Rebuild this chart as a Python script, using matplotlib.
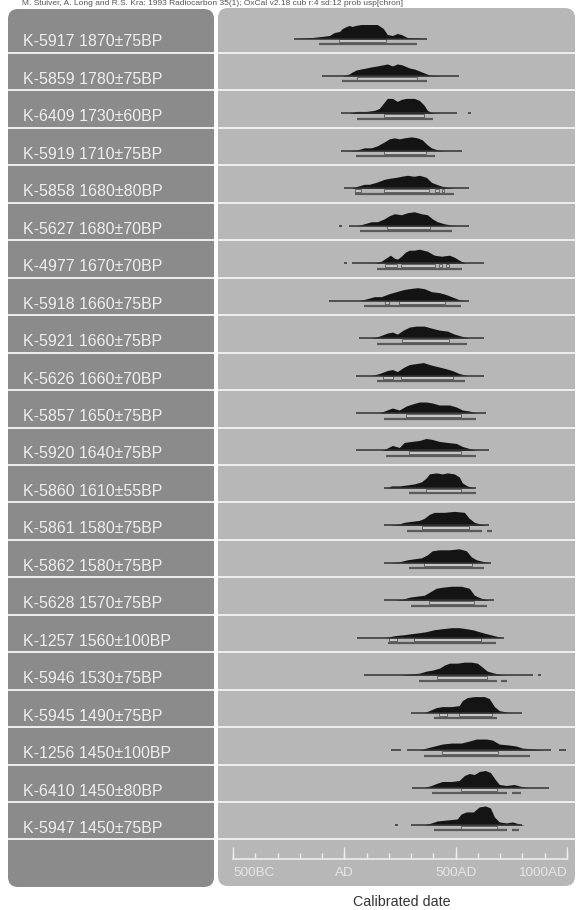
import numpy as np
import matplotlib
matplotlib.use("Agg")
import matplotlib.pyplot as plt
from matplotlib.patches import FancyBboxPatch, Rectangle

plt.rcParams['font.family'] = ['Liberation Sans', 'DejaVu Sans']

header = ("M. Stuiver, A. Long and R.S. Kra: 1993 Radiocarbon 35(1); "
          "OxCal v2.18 cub r:4 sd:12 prob usp[chron]")

labels = [
    "K-5917 1870±75BP", "K-5859 1780±75BP", "K-6409 1730±60BP",
    "K-5919 1710±75BP", "K-5858 1680±80BP", "K-5627 1680±70BP",
    "K-4977 1670±70BP", "K-5918 1660±75BP", "K-5921 1660±75BP",
    "K-5626 1660±70BP", "K-5857 1650±75BP", "K-5920 1640±75BP",
    "K-5860 1610±55BP", "K-5861 1580±75BP", "K-5862 1580±75BP",
    "K-5628 1570±75BP", "K-1257 1560±100BP", "K-5946 1530±75BP",
    "K-5945 1490±75BP", "K-1256 1450±100BP", "K-6410 1450±80BP",
    "K-5947 1450±75BP",
]

# extent of the calibration curve (calendar years, AD positive)
base_ranges = [
    [(-225, 373)],
    [(-99, 516)],
    [(-13, 507), (555, 567)],
    [(-13, 530)],
    [(0, 561)],
    [(22, 561), (-25, -12)],
    [(36, 629), (0, 12)],
    [(-67, 561)],
    [(67, 629)],
    [(54, 629)],
    [(54, 638)],
    [(54, 651)],
    [(180, 593)],
    [(180, 651)],
    [(180, 660)],
    [(180, 674)],
    [(58, 719)],
    [(90, 849), (870, 885)],
    [(301, 799)],
    [(211, 256), (283, 930), (966, 997)],
    [(305, 921)],
    [(301, 799), (228, 240)],
]

# probability distributions: calendar year and relative probability
dist_years = [
    [-225, -144, -103, -67, -45, -22, -9, 9, 22, 36, 49, 76, 148, 175, 193, 216, 238, 256, 283, 373],
    [-9, 22, 36, 54, 76, 99, 121, 148, 171, 193, 216, 238, 260, 292, 314, 337, 359, 382, 427],
    [22, 54, 99, 135, 157, 175, 193, 216, 238, 256, 278, 314, 337, 359, 373, 391, 427],
    [22, 58, 90, 121, 148, 180, 202, 225, 247, 269, 301, 328, 350, 373, 391, 418, 449],
    [31, 58, 90, 112, 144, 180, 202, 234, 256, 283, 314, 337, 368, 391, 413, 440, 494],
    [58, 90, 121, 148, 180, 202, 225, 256, 283, 314, 346, 373, 395, 418, 449, 494],
    [135, 166, 193, 207, 225, 238, 256, 274, 292, 314, 337, 373, 404, 436, 472, 494, 516, 543],
    [67, 103, 135, 166, 202, 234, 265, 292, 328, 359, 391, 427, 458, 481, 516, 539],
    [121, 157, 193, 216, 238, 265, 292, 323, 359, 391, 427, 463, 494, 525, 561],
    [121, 157, 193, 216, 238, 265, 292, 323, 355, 382, 418, 454, 485, 516, 552],
    [157, 180, 216, 247, 278, 305, 337, 368, 395, 427, 472, 503, 530, 561, 593],
    [166, 189, 216, 247, 269, 301, 337, 368, 395, 427, 463, 503, 530, 561, 593],
    [193, 211, 247, 283, 314, 346, 368, 382, 413, 440, 463, 494, 516, 530, 552, 584],
    [202, 238, 269, 301, 337, 359, 382, 404, 449, 494, 539, 561, 584, 615, 642],
    [211, 247, 283, 314, 346, 373, 395, 427, 472, 516, 548, 570, 593, 629, 651],
    [225, 260, 292, 323, 359, 382, 413, 440, 481, 525, 561, 584, 615, 651],
    [180, 225, 269, 301, 337, 368, 404, 440, 481, 516, 548, 575, 606, 638, 674, 710],
    [247, 292, 337, 368, 395, 427, 449, 472, 507, 539, 570, 597, 620, 642, 674, 719],
    [359, 382, 413, 440, 481, 516, 530, 552, 584, 629, 651, 674, 696, 741],
    [337, 368, 404, 440, 481, 525, 561, 593, 638, 665, 696, 741, 772, 799, 853, 898],
    [359, 391, 413, 440, 481, 516, 539, 561, 584, 606, 633, 656, 678, 696, 728, 763, 795, 822],
    [359, 391, 418, 463, 507, 525, 548, 579, 606, 633, 656, 674, 696, 728, 755, 786, 808],
]
dist_heights = [
    [0, 1, 2, 3, 6, 7, 10, 12, 13, 12, 13, 14, 14, 10, 4, 3, 5, 4, 1, 0],
    [0, 2, 4, 6, 7, 8, 9, 10, 11, 12, 10, 12, 11, 8, 7, 5, 3, 1, 0],
    [0, 2, 2, 3, 5, 10, 15, 15, 12, 14, 15, 15, 13, 8, 3, 1, 0],
    [0, 1, 3, 3, 5, 9, 12, 13, 12, 13, 14, 13, 11, 6, 3, 1, 0],
    [0, 2, 4, 4, 6, 9, 10, 11, 12, 13, 12, 13, 11, 6, 4, 2, 0],
    [0, 2, 4, 4, 7, 10, 12, 11, 13, 14, 12, 11, 7, 4, 2, 0],
    [0, 2, 6, 8, 5, 4, 7, 11, 13, 13, 14, 12, 8, 7, 8, 6, 3, 0],
    [0, 2, 4, 4, 7, 9, 11, 12, 13, 12, 9, 8, 6, 4, 1, 0],
    [0, 2, 5, 6, 4, 8, 11, 12, 12, 10, 8, 7, 4, 2, 0],
    [0, 2, 5, 6, 4, 8, 11, 12, 13, 11, 9, 7, 5, 2, 0],
    [0, 2, 5, 3, 7, 9, 11, 11, 10, 8, 8, 6, 3, 2, 0],
    [0, 2, 5, 3, 8, 9, 10, 12, 11, 9, 8, 7, 4, 2, 0],
    [0, 2, 2, 3, 4, 6, 10, 14, 15, 14, 15, 14, 11, 5, 2, 0],
    [0, 1, 3, 4, 5, 7, 11, 13, 13, 14, 13, 7, 3, 1, 0],
    [0, 1, 3, 4, 5, 8, 12, 13, 13, 14, 12, 6, 3, 1, 0],
    [0, 1, 3, 4, 5, 8, 12, 13, 14, 14, 12, 5, 2, 0],
    [0, 2, 3, 4, 5, 6, 8, 9, 10, 10, 9, 8, 6, 4, 2, 0],
    [0, 1, 2, 4, 5, 7, 10, 12, 12, 13, 13, 12, 8, 4, 2, 0],
    [0, 2, 5, 6, 6, 7, 12, 15, 16, 16, 14, 6, 2, 0],
    [0, 2, 4, 6, 7, 7, 9, 11, 11, 10, 6, 5, 4, 2, 1, 0],
    [0, 2, 4, 6, 6, 7, 12, 14, 13, 16, 17, 15, 8, 3, 2, 3, 1, 0],
    [0, 2, 4, 5, 6, 11, 13, 13, 18, 19, 17, 8, 3, 2, 3, 1, 0],
]

# 68.2% and 95.4% ranges
range68 = [
    [(-22, 189)],
    [(58, 328)],
    [(180, 359)],
    [(180, 368)],
    [(49, 76), (180, 378), (409, 427), (440, 449)],
    [(190, 385)],
    [(184, 238), (256, 409), (427, 440), (458, 472)],
    [(184, 202), (247, 450)],
    [(260, 470)],
    [(175, 220), (256, 490)],
    [(278, 525)],
    [(292, 525)],
    [(368, 525)],
    [(350, 561)],
    [(359, 575)],
    [(382, 584)],
    [(202, 238), (314, 615)],
    [(418, 642)],
    [(427, 463), (516, 665)],
    [(440, 692)],
    [(525, 687)],
    [(525, 687)],
]
range95 = [
    [(-112, 328)],
    [(-9, 373)],
    [(58, 400)],
    [(54, 409)],
    [(49, 494)],
    [(70, 485)],
    [(148, 530)],
    [(90, 525)],
    [(148, 552)],
    [(148, 540)],
    [(180, 593)],
    [(189, 593)],
    [(292, 593)],
    [(283, 620), (640, 665)],
    [(292, 629)],
    [(301, 642)],
    [(198, 683)],
    [(337, 687), (705, 730)],
    [(404, 687)],
    [(359, 836)],
    [(395, 732), (755, 795)],
    [(404, 732), (755, 786)],
]

axis_major = [-500, 0, 500, 1000]
axis_minor = list(range(-500, 1001, 100))
axis_labels = ["500BC", "AD", "500AD", "1000AD"]
axis_align = ["left", "center", "center", "right"]

W, H = 576, 910
fig = plt.figure(figsize=(W / 100, H / 100), dpi=100)
fig.patch.set_facecolor("white")

# page-level layer in pixel units
bg = fig.add_axes([0, 0, 1, 1])
bg.set_xlim(0, W)
bg.set_ylim(H, 0)
bg.axis("off")

bg.add_patch(FancyBboxPatch((8, 9), 206, 878, boxstyle="round,pad=0,rounding_size=10",
                            facecolor="#8b8b8b", edgecolor="none"))
bg.add_patch(FancyBboxPatch((218, 8), 357, 878, boxstyle="round,pad=0,rounding_size=10",
                            facecolor="#b7b7b7", edgecolor="none"))

first_sep, row_h = 53, 37.45
seps = [first_sep + row_h * k for k in range(len(labels))]
for y in seps:
    bg.hlines(y, 8, 214, color="#efefef", lw=1.4)
    bg.hlines(y, 218, 575, color="#efefef", lw=1.4)

for y, lab in zip(seps, labels):
    bg.text(23, y - 6.5, lab, fontsize=11.5, color="#eeeeee", va="baseline", ha="left")

bg.text(22, 3.8, header, fontsize=6, color="#555555", va="center", ha="left")
bg.text(402, 902, "Calibrated date", fontsize=10.3, color="#333333", ha="center", va="center")

# calendar axis for the plot panel
ax = fig.add_axes([218 / W, 1 - 886 / H, 357 / W, 878 / H])
ax.set_xlim(-567.4, 1035.9)
ax.set_ylim(886, 8)
ax.axis("off")

for i, y in enumerate(seps):
    base = y - 14.5
    for a, b in base_ranges[i]:
        ax.plot([a, b], [base, base], color="#333333", lw=1.1, solid_capstyle="butt")
    yrs = np.array(dist_years[i])
    hts = np.array(dist_heights[i])
    ax.fill_between(yrs, base, base - hts, color="#141414", lw=0)
    for a, b in range68[i]:
        ax.add_patch(Rectangle((a, base + 0.6), b - a, 3, facecolor="#c6c6c6",
                               edgecolor="#555555", lw=0.6))
    for a, b in range95[i]:
        ax.plot([a, b], [base + 5.5, base + 5.5], color="#5a5a5a", lw=1.6,
                solid_capstyle="butt")

axis_y = 859
ax.plot([axis_major[0], axis_major[-1]], [axis_y, axis_y], color="#ececec", lw=1.2)
ax.vlines(axis_minor, axis_y - 6, axis_y, color="#ececec", lw=1.0)
ax.vlines(axis_major, axis_y - 12, axis_y, color="#ececec", lw=1.0)
for yr, lab, al in zip(axis_major, axis_labels, axis_align):
    ax.text(yr, 873, lab, fontsize=9.7, color="#e6e6e6", ha=al, va="center")

fig.savefig("out.png", dpi=100, facecolor="white")
